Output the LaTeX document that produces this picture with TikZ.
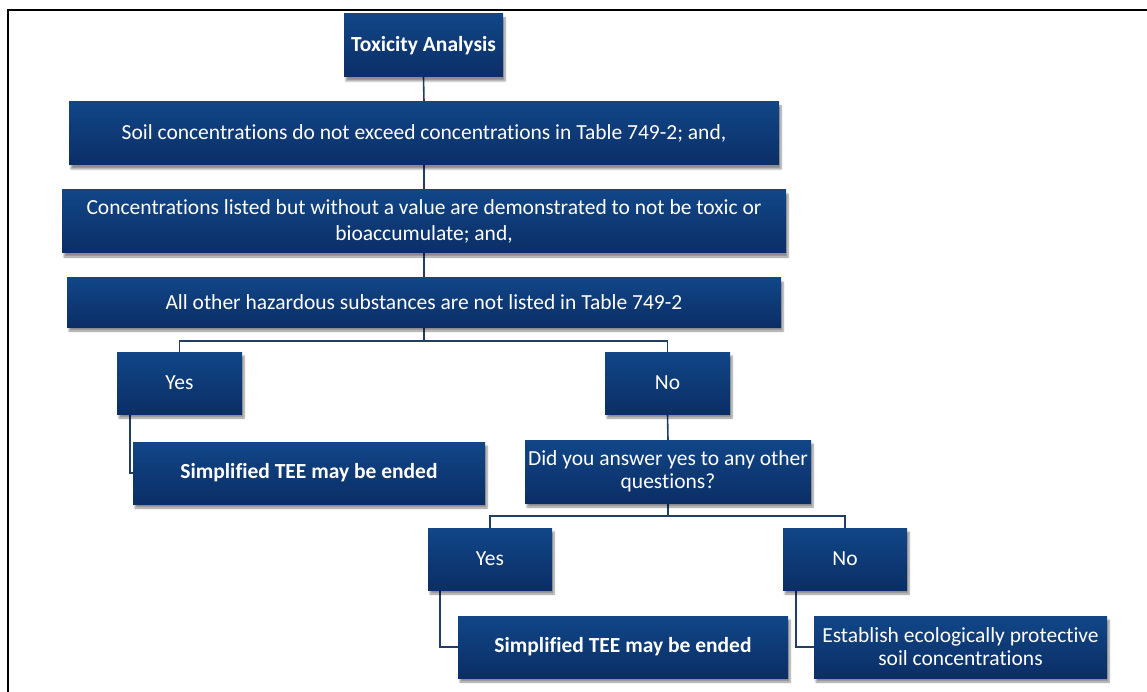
\documentclass[tikz,border=0pt]{standalone}
\usepackage{fontspec}
\setmainfont{Carlito}[Ligatures=NoCommon]
\usetikzlibrary{shadows.blur,backgrounds}
\definecolor{boxtop}{RGB}{17,70,135}
\definecolor{boxbot}{RGB}{11,46,102}
\definecolor{wire}{RGB}{35,62,100}
\tikzset{
  flowbox/.style={rectangle, inner sep=0pt, top color=boxtop, bottom color=boxbot,
    text=white, align=center, font=\fontsize{21.5}{26}\selectfont,
    blur shadow={shadow xshift=2pt, shadow yshift=-4pt, shadow blur steps=6, shadow opacity=45}},
  boldtext/.style={font=\fontsize{21.5}{26}\selectfont\bfseries},
  tighttext/.style={font=\fontsize{21.5}{23}\selectfont},
  wirepath/.style={draw=wire, line width=1.6pt},
  frameline/.style={draw=black, line width=2.2pt}
}
\begin{document}
\begin{tikzpicture}[x=1pt,y=-1pt]
\clip (0,0) rectangle (1147,692);
% outer frame (only top and left edges fall inside the page)
\draw[frameline] (8,720) -- (8,10) -- (1180,10);

% boxes
\node[flowbox, boldtext, minimum width=159pt, minimum height=63pt] (tox) at (423.5,45.5) {Toxicity Analysis};
\node[flowbox, minimum width=710pt, minimum height=63pt] (soil) at (424,133.5) {Soil concentrations do not exceed concentrations in Table 749-2; and,};
\node[flowbox, minimum width=724pt, minimum height=63pt] (conc) at (424,221.5) {Concentrations listed but without a value are demonstrated to not be toxic or\\bioaccumulate; and,};
\node[flowbox, minimum width=714pt, minimum height=49pt] (all) at (424,302.5) {All other hazardous substances are not listed in Table 749-2};
\node[flowbox, minimum width=125pt, minimum height=62pt] (yes1) at (179.5,383) {Yes};
\node[flowbox, minimum width=125pt, minimum height=62pt] (no1) at (667.5,383) {No};
\node[flowbox, boldtext, minimum width=352pt, minimum height=62pt] (sim1) at (309,473) {Simplified TEE may be ended};
\node[flowbox, tighttext, minimum width=286pt, minimum height=63pt] (did) at (668,471.5) {Did you answer yes to any other\\questions?};
\node[flowbox, minimum width=124pt, minimum height=62pt] (yes2) at (490,559) {Yes};
\node[flowbox, minimum width=124pt, minimum height=62pt] (no2) at (845,559) {No};
\node[flowbox, boldtext, minimum width=330pt, minimum height=62pt] (sim2) at (623,647) {Simplified TEE may be ended};
\node[flowbox, tighttext, minimum width=293pt, minimum height=62pt] (est) at (960.5,647) {Establish ecologically protective\\soil concentrations};

% connectors, kept behind the boxes
\begin{scope}[on background layer]
\draw[wirepath] (tox.south) -- (soil.north);
\draw[wirepath] (soil.south) -- (conc.north);
\draw[wirepath] (conc.south) -- (all.north);
\draw[wirepath] (all.south) -- ++(0,13.5) coordinate (j1);
\draw[wirepath] (j1) -| (yes1.north);
\draw[wirepath] (j1) -| (no1.north);
\draw[wirepath] ([xshift=13pt]yes1.south west) |- (sim1.west);
\draw[wirepath] (no1.south) -- (did.north);
\draw[wirepath] (did.south) -- ++(0,13) coordinate (j2);
\draw[wirepath] (j2) -| (yes2.north);
\draw[wirepath] (j2) -| (no2.north);
\draw[wirepath] ([xshift=12pt]yes2.south west) |- (sim2.west);
\draw[wirepath] ([xshift=13pt]no2.south west) |- (est.west);
\end{scope}
\end{tikzpicture}
\end{document}
